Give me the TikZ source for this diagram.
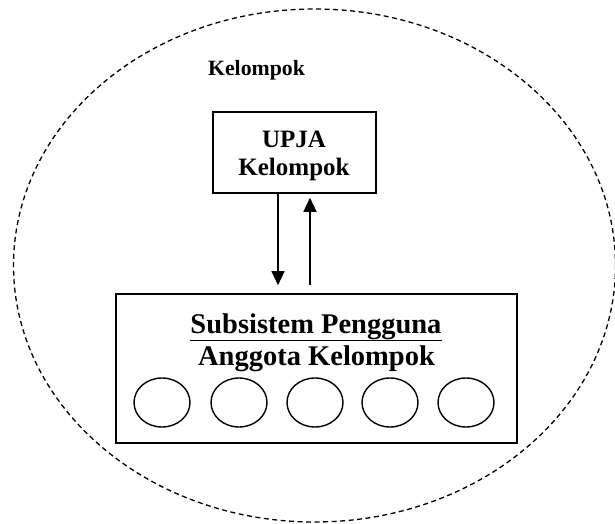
\documentclass[tikz,border=0pt]{standalone}
\usepackage{fontspec}
\setmainfont{Liberation Serif}
\usetikzlibrary{arrows.meta,shapes.geometric}
\tikzset{
  boxnode/.style={draw,line width=1.6pt,inner sep=0pt},
  member/.style={draw,ellipse,line width=1.4pt,minimum width=56pt,minimum height=49pt,inner sep=0pt},
  arr/.style={line width=1.4pt,-{Triangle[width=13pt,length=14pt]}},
  grp/.style={draw,line width=1.3pt,dash pattern=on 5pt off 3.5pt},
  lblsmall/.style={anchor=base,inner sep=0pt,font=\bfseries\fontsize{21.8}{26}\selectfont},
  lblmid/.style={anchor=base,inner sep=0pt,font=\bfseries\fontsize{25}{28}\selectfont},
  lblbig/.style={anchor=base,inner sep=0pt,font=\bfseries\fontsize{28.5}{32}\selectfont}
}
\begin{document}
\begin{tikzpicture}[x=1pt,y=-1pt]
\useasboundingbox (0,0) rectangle (615,524);
\draw[grp] (314.5,265.5) ellipse [x radius=301, y radius=256.5];
\node[lblsmall] (grplabel) at (256.5,76) {Kelompok};
\node[boxnode,minimum width=163pt,minimum height=81pt] (upja) at (294.5,152.5) {};
\node[lblmid] (upja1) at (294,147) {UPJA};
\node[lblmid] (upja2) at (294,175) {Kelompok};
\node[boxnode,minimum width=401pt,minimum height=149pt] (sub) at (316.5,368.5) {};
\node[lblbig] (sub1) at (316,333) {\underline{Subsistem Pengguna}};
\node[lblbig] (sub2) at (316.5,365) {Anggota Kelompok};
\node[member] (m1) at (162,402.5) {};
\node[member] (m2) at (239,402.5) {};
\node[member] (m3) at (315,402.5) {};
\node[member] (m4) at (390,402.5) {};
\node[member] (m5) at (466,402.5) {};
\coordinate (xd) at (278,0);
\coordinate (xu) at (310,0);
\draw[arr,shorten >=8pt] (upja.south -| xd) -- (sub.north -| xd);
\draw[arr,shorten <=8pt,shorten >=4pt] (sub.north -| xu) -- (upja.south -| xu);
\end{tikzpicture}
\end{document}
